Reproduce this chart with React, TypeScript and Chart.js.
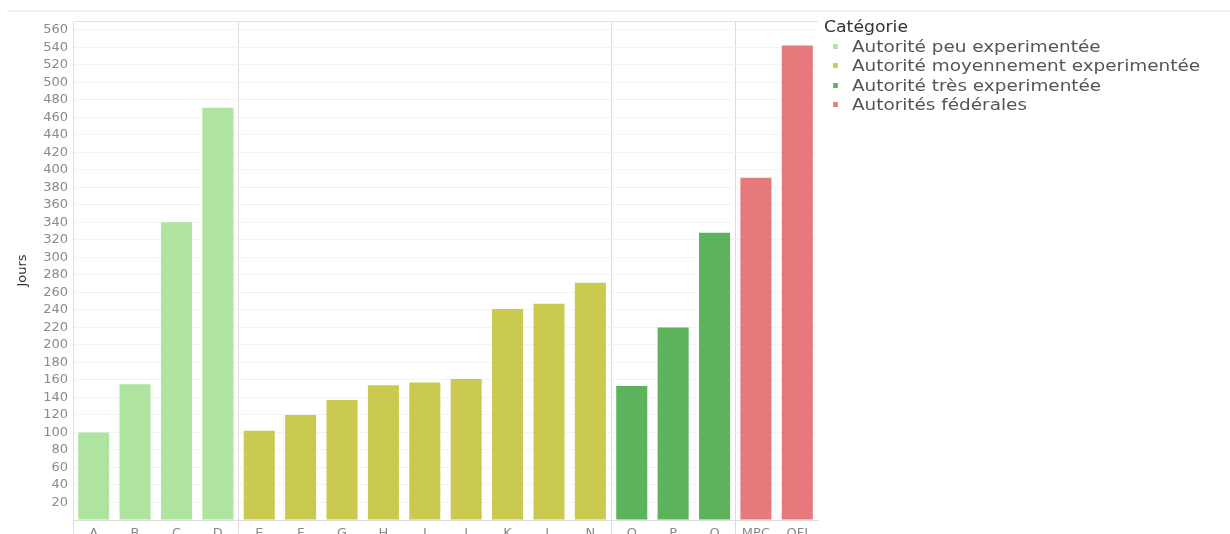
import React, { useEffect, useRef } from "react";
import { Chart, registerables } from "chart.js";

Chart.register(...registerables);

// Authorities grouped by experience level, with average duration in days
const peuLabels = ["A", "B", "C", "D"];
const peuValues = [100, 155, 340, 471];

const moyenLabels = ["E", "F", "G", "H", "I", "J", "K", "L", "N"];
const moyenValues = [102, 120, 137, 154, 157, 161, 241, 247, 271];

const tresLabels = ["O", "P", "Q"];
const tresValues = [153, 220, 328];

const fedLabels = ["MPC", "OFJ"];
const fedValues = [391, 542];

const groupNames = [
  "Autorité peu experimentée",
  "Autorité moyennement experimentée",
  "Autorité très experimentée",
  "Autorités fédérales",
];
const groupColors = ["#aee3a0", "#c9ca4f", "#5bb35b", "#e6797c"];

// Y axis: labelled every 20 days, axis runs up to 570
const yTickValues = [
  0, 20, 40, 60, 80, 100, 120, 140, 160, 180, 200, 220, 240, 260, 280, 300,
  320, 340, 360, 380, 400, 420, 440, 460, 480, 500, 520, 540, 560,
];
const yMax = 570;

const allLabels = [...peuLabels, ...moyenLabels, ...tresLabels, ...fedLabels];
const groupValues = [peuValues, moyenValues, tresValues, fedValues];

// Index of the first category of each group (where separators are drawn)
const groupStarts: number[] = [];
{
  let acc = 0;
  for (const vals of groupValues) {
    groupStarts.push(acc);
    acc += vals.length;
  }
  groupStarts.push(acc);
}

function paddedData(groupIdx: number): (number | null)[] {
  const out: (number | null)[] = allLabels.map(() => null);
  const start = groupStarts[groupIdx];
  groupValues[groupIdx].forEach((v, i) => {
    out[start + i] = v;
  });
  return out;
}

const FONT = "'DejaVu Sans', sans-serif";

const topRulePlugin = {
  id: "topRule",
  beforeDraw(chart: Chart) {
    const { ctx, width } = chart;
    ctx.save();
    ctx.strokeStyle = "#e9e9e9";
    ctx.lineWidth = 1.5;
    ctx.beginPath();
    ctx.moveTo(7, 11);
    ctx.lineTo(width, 11);
    ctx.stroke();
    ctx.restore();
  },
};

export default function App() {
  const canvasRef = useRef<HTMLCanvasElement | null>(null);

  useEffect(() => {
    document.body.style.margin = "0";
    const canvas = canvasRef.current;
    if (!canvas) return;

    const chart = new Chart(canvas, {
      type: "bar",
      data: {
        labels: allLabels,
        datasets: groupNames.map((name, gi) => ({
          label: name,
          data: paddedData(gi),
          backgroundColor: groupColors[gi],
          borderWidth: 0,
          grouped: false,
          barPercentage: 0.75,
          categoryPercentage: 1,
        })),
      },
      options: {
        responsive: false,
        animation: false,
        layout: { padding: { top: 21, right: 412, bottom: 0, left: 0 } },
        plugins: {
          legend: { display: false },
          tooltip: { enabled: false },
        },
        scales: {
          x: {
            offset: true,
            afterFit: (s: any) => {
              s.height = 14;
            },
            border: { display: true, color: "#dedede", width: 1 },
            grid: {
              offset: true,
              drawOnChartArea: true,
              drawTicks: true,
              tickLength: 14,
              color: (ctx: any) =>
                groupStarts.includes(ctx.index) ? "#dcdcdc" : "rgba(0,0,0,0)",
              tickColor: (ctx: any) =>
                groupStarts.includes(ctx.index) ? "#dcdcdc" : "rgba(0,0,0,0)",
            },
            ticks: {
              color: "#8a8a8a",
              font: { family: FONT, size: 13 },
              padding: -8,
              maxRotation: 0,
              autoSkip: false,
            },
          },
          y: {
            min: 0,
            max: yMax,
            afterFit: (s: any) => {
              s.width = 73;
            },
            afterBuildTicks: (s: any) => {
              s.ticks = [...yTickValues, yMax].map((value) => ({ value }));
            },
            border: { display: true, color: "#dedede", width: 1 },
            grid: {
              drawTicks: false,
              color: (ctx: any) =>
                ctx.tick && ctx.tick.value === yMax ? "#e2e2e2" : "#f3f3f3",
            },
            ticks: {
              autoSkip: false,
              padding: 5,
              color: "#8a8a8a",
              font: { family: FONT, size: 13 },
              callback: (v: any) =>
                v !== 0 && v !== yMax ? String(v) : "",
            },
            title: {
              display: true,
              text: "Jours",
              color: "#333333",
              font: { family: FONT, size: 13 },
              padding: { top: 15, bottom: 0 },
            },
          },
        },
      },
      plugins: [topRulePlugin],
    });

    return () => chart.destroy();
  }, []);

  return (
    <div style={{ position: "relative", width: 1230, height: 534, overflow: "hidden" }}>
      <canvas ref={canvasRef} width={1230} height={534} style={{ display: "block" }} />
      <div
        style={{
          position: "absolute",
          left: 824,
          top: 18,
          transform: "scaleX(1.15)",
          transformOrigin: "left top",
          fontFamily: FONT,
          whiteSpace: "nowrap",
        }}
      >
        <div style={{ fontSize: 15, color: "#333", lineHeight: "18px", height: 19 }}>
          Catégorie
        </div>
        {groupNames.map((name, i) => (
          <div
            key={name}
            style={{
              position: "relative",
              fontSize: 16,
              color: "#555",
              lineHeight: "19.3px",
              height: 19.3,
              paddingLeft: 24.3,
            }}
          >
            <span
              style={{
                position: "absolute",
                left: 7.8,
                top: 7,
                width: 4.5,
                height: 5,
                background: groupColors[i],
              }}
            />
            {name}
          </div>
        ))}
      </div>
    </div>
  );
}
